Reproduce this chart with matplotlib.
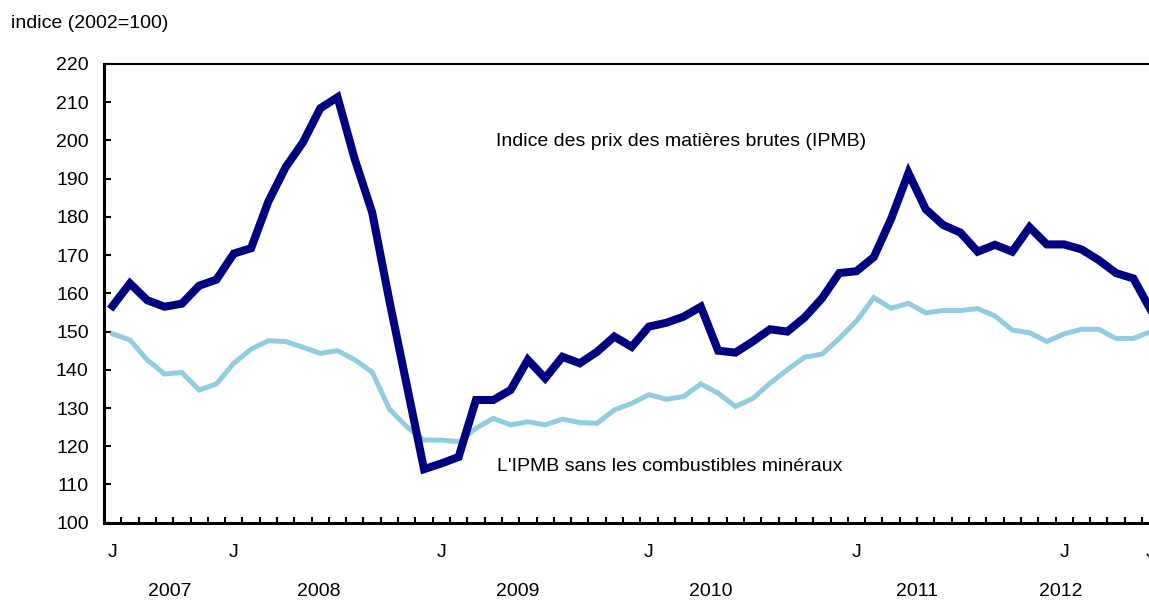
import matplotlib
matplotlib.use("Agg")
import matplotlib.pyplot as plt
import matplotlib.transforms as mtransforms
import numpy as np

plt.rcParams['font.family'] = ['Liberation Sans', 'DejaVu Sans']

# Months June 2007 .. June 2012
months = [f"{y}-{m:02d}" for y in range(2007, 2013) for m in range(1, 13)]
months = months[5:5 + 61]

ipmb = [156.7, 162.6, 158.2, 156.5, 157.3, 162.0, 163.6, 170.4, 171.8, 184.0,
        193.0, 199.5, 208.4, 211.3, 195.0, 181.2, 158.0, 136.0, 114.0, 115.5,
        117.2, 132.1, 132.1, 134.7, 142.6, 137.8, 143.4, 141.7, 144.7, 148.7,
        146.0, 151.3, 152.3, 153.9, 156.5, 145.0, 144.5, 147.4, 150.6, 150.0,
        153.7, 158.7, 165.3, 165.8, 169.5, 179.5, 191.5, 182.0, 177.9, 175.9,
        170.9, 172.7, 170.9, 177.3, 172.8, 172.8, 171.5, 168.7, 165.3, 163.9,
        155.7]

ipmb_sans = [149.4, 147.8, 142.6, 138.9, 139.3, 134.7, 136.3, 141.7, 145.4, 147.6,
             147.4, 145.9, 144.3, 145.0, 142.6, 139.4, 129.7, 125.1, 121.6, 121.6,
             121.2, 124.7, 127.3, 125.6, 126.4, 125.6, 127.1, 126.2, 126.0, 129.5,
             131.2, 133.5, 132.3, 133.0, 136.3, 133.9, 130.4, 132.5, 136.5, 140.0,
             143.3, 144.1, 148.2, 152.8, 158.9, 156.1, 157.4, 154.9, 155.5, 155.5,
             156.0, 154.1, 150.4, 149.7, 147.4, 149.4, 150.6, 150.6, 148.2, 148.2,
             150.0]

series_labels = ["Indice des prix des matières brutes (IPMB)",
                 "L'IPMB sans les combustibles minéraux"]
years = ["2007", "2008", "2009", "2010", "2011", "2012"]
y_ticks = list(range(100, 221, 10))

W, H = 1149, 602
FS = 14
fig = plt.figure(figsize=(W / 100, H / 100), dpi=100)
x0, x1 = 104, 1152
ytop, ybot = 64, 522.7
ax = fig.add_axes([x0 / W, 1 - ybot / H, (x1 - x0) / W, (ybot - ytop) / H])

n = len(months)
x = np.arange(n) + 0.5
ax.plot(x, ipmb_sans, color='#92CDDF', lw=3.6, solid_joinstyle='miter', zorder=2)
ax.plot(x, ipmb, color='#000080', lw=5.8, solid_joinstyle='miter', zorder=3)

ax.set_yticks(y_ticks)
ax.set_yticklabels([str(v) for v in y_ticks], fontsize=FS)
ax.tick_params(axis='y', direction='in', length=5, width=1.5, pad=11)

# x ticks: month boundaries as minor ticks, labels 'J' at June / January
ax.set_xticks(np.arange(0, n), minor=True)
lab_idx = [i for i, m in enumerate(months)
           if m.endswith('-01') or (m.endswith('-06') and i in (0, n - 1))]
ax.set_xticks([i + 0.5 for i in lab_idx])
ax.set_xticklabels(['J'] * len(lab_idx), fontsize=FS)
ax.tick_params(axis='x', which='major', length=0, pad=15)
ax.tick_params(axis='x', which='minor', direction='in', length=4, width=1.5)

px_per_month = 17.3
ax.set_xlim(0, (x1 - x0) / px_per_month)
ax.set_ylim(100, 220)

for s in ['left', 'bottom']:
    ax.spines[s].set_linewidth(2.2)
ax.spines['top'].set_linewidth(1.5)
ax.spines['right'].set_visible(False)

trans = mtransforms.blended_transform_factory(ax.transData, fig.transFigure)
year_pos = [3.8, 12.4, 23.9, 35.1, 47.0, 55.3]
for yr, xp in zip(years, year_pos):
    ax.text(xp, 1 - 592 / H, yr, transform=trans, ha='center', va='center', fontsize=FS)

ax.text(22.65, 199.6, series_labels[0], fontsize=FS, ha='left', va='center')
ax.text(22.7, 114.6, series_labels[1], fontsize=FS, ha='left', va='center')

fig.text(11 / W, 1 - 23 / H, "indice (2002=100)", fontsize=FS, ha='left', va='center')

fig.savefig("out.png", dpi=100)
